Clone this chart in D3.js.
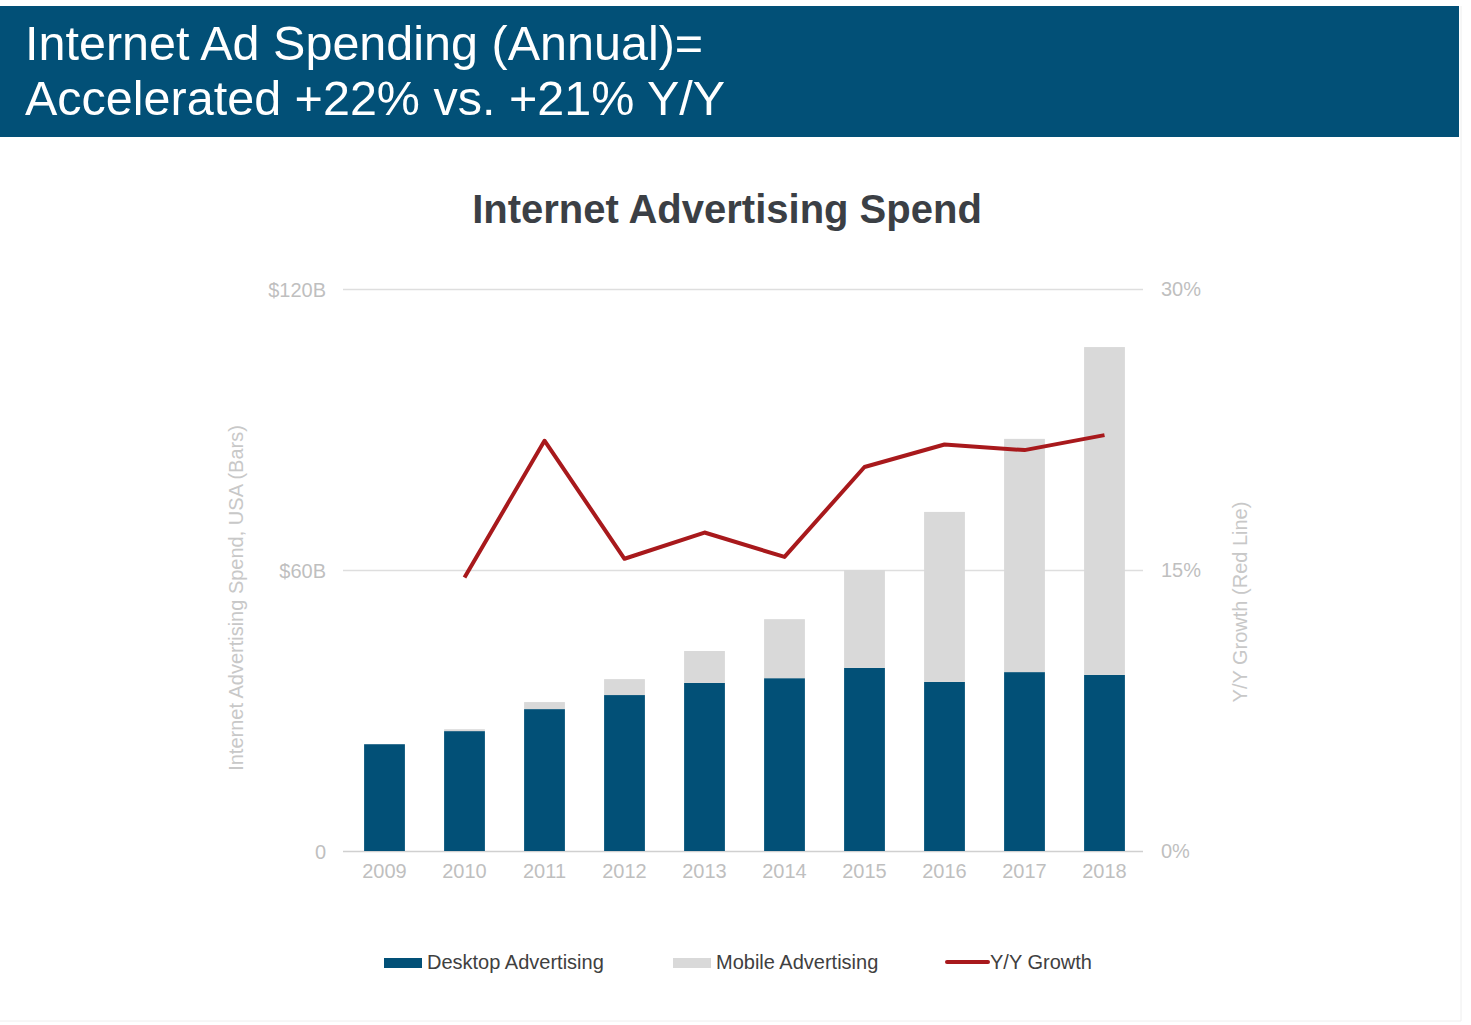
<!DOCTYPE html>
<html>
<head>
<meta charset="utf-8">
<script src="https://cdn.jsdelivr.net/npm/d3@7"></script>
<style>
  body { margin: 0; background: #fff; }
  text { font-family: "Liberation Sans", Arial, sans-serif; }
</style>
</head>
<body>
<div class="chart"></div>
<script>
// data
const years = ["2009", "2010", "2011", "2012", "2013", "2014", "2015", "2016", "2017", "2018"];
const desktop = [22.8, 25.6, 30.3, 33.3, 35.9, 36.9, 39.1, 36.1, 38.2, 37.6];
const mobile = [0, 0.4, 1.5, 3.4, 6.8, 12.6, 20.9, 36.3, 49.8, 70.0];
const growth = [null, 14.6, 21.9, 15.6, 17.0, 15.7, 20.5, 21.7, 21.4, 22.2];
const spendTicks = [0, 60, 120];
const growthTicks = [0, 15, 30];
const headerLines = ["Internet Ad Spending (Annual)=", "Accelerated +22% vs. +21% Y/Y"];

function drawChart() {
    const width = 1471, height = 1025;
    const left = 343, right = 1143, top = 289, bottom = 851;

    const svg = d3.select(".chart").append("svg")
        .attr("width", width)
        .attr("height", height);

    svg.append("rect").attr("width", width).attr("height", height).attr("fill", "#fff");

    // header band
    svg.append("rect")
        .attr("x", 0).attr("y", 6)
        .attr("width", 1459).attr("height", 131)
        .attr("fill", "#025077");
    svg.selectAll(".head")
        .data(headerLines)
        .enter().append("text")
        .attr("x", 25)
        .attr("y", (d, i) => 60 + i * 55)
        .attr("fill", "#fff")
        .style("font-size", "48.5px")
        .text(d => d);

    // faint slide edge
    svg.append("line").attr("x1", 1461).attr("x2", 1461).attr("y1", 6).attr("y2", 1021)
        .attr("stroke", "#eeeeee");
    svg.append("line").attr("x1", 0).attr("x2", 1461).attr("y1", 1021).attr("y2", 1021)
        .attr("stroke", "#eeeeee");

    svg.append("text")
        .attr("x", 727).attr("y", 223)
        .attr("text-anchor", "middle")
        .attr("fill", "#3b3f45")
        .style("font-size", "40px")
        .style("font-weight", "bold")
        .text("Internet Advertising Spend");

    const x = d3.scaleBand()
        .domain(years)
        .range([left + 1.5, right + 1.5])
        .paddingInner(0.49)
        .paddingOuter(0.245);
    const y = d3.scaleLinear().domain([0, 120]).range([bottom, top]);
    const y2 = d3.scaleLinear().domain([0, 30]).range([bottom, top]);

    // left axis + gridlines
    const yAxis = svg.append("g")
        .attr("transform", `translate(${left},0)`)
        .call(d3.axisLeft(y)
            .tickValues(spendTicks)
            .tickSize(-(right - left))
            .tickPadding(17)
            .tickFormat(d => d === 0 ? "0" : `$${d}B`));
    yAxis.select(".domain").remove();
    yAxis.selectAll("line").attr("stroke", d => d === 0 ? "#d0d0d0" : "#dedede").attr("stroke-width", 1.5);
    yAxis.selectAll("text").attr("fill", "#bfbfbf").style("font-size", "20px")
        .attr("dy", "0.35em");

    const y2Axis = svg.append("g")
        .attr("transform", `translate(${right},0)`)
        .call(d3.axisRight(y2)
            .tickValues(growthTicks)
            .tickSize(0)
            .tickPadding(18)
            .tickFormat(d => `${d}%`));
    y2Axis.select(".domain").remove();
    y2Axis.selectAll("text").attr("fill", "#bfbfbf").style("font-size", "20px");

    const xAxis = svg.append("g")
        .attr("transform", `translate(0,${bottom})`)
        .call(d3.axisBottom(x).tickSize(0).tickPadding(13));
    xAxis.select(".domain").remove();
    xAxis.selectAll("text").attr("fill", "#bfbfbf").style("font-size", "20px");

    // axis titles
    svg.append("text")
        .attr("transform", "translate(243,598) rotate(-90)")
        .attr("text-anchor", "middle")
        .attr("fill", "#c8c8c8")
        .style("font-size", "20px")
        .text("Internet Advertising Spend, USA (Bars)");
    svg.append("text")
        .attr("transform", "translate(1247,602) rotate(-90)")
        .attr("text-anchor", "middle")
        .attr("fill", "#c8c8c8")
        .style("font-size", "20px")
        .text("Y/Y Growth (Red Line)");

    // stacked bars
    const rows = years.map((yr, i) => ({ year: yr, desktop: desktop[i], mobile: mobile[i] }));
    const stack = d3.stack().keys(["desktop", "mobile"])(rows);
    const colors = { desktop: "#025077", mobile: "#d9d9d9" };

    svg.append("g").selectAll("g")
        .data(stack)
        .enter().append("g")
        .attr("fill", d => colors[d.key])
        .selectAll("rect")
        .data(d => d)
        .enter().append("rect")
            .attr("x", d => x(d.data.year))
            .attr("y", d => y(d[1]))
            .attr("width", x.bandwidth())
            .attr("height", d => y(d[0]) - y(d[1]));

    // growth line
    const line = d3.line()
        .defined(d => d.v != null)
        .x(d => x(d.year) + x.bandwidth() / 2)
        .y(d => y2(d.v));
    svg.append("path")
        .datum(years.map((yr, i) => ({ year: yr, v: growth[i] })))
        .attr("d", line)
        .attr("fill", "none")
        .attr("stroke", "#a8191c")
        .attr("stroke-width", 4)
        .attr("stroke-linejoin", "round");

    // legend
    const legend = svg.append("g");
    const items = [
        { label: "Desktop Advertising", x: 384, type: "rect", color: "#025077" },
        { label: "Mobile Advertising", x: 673, type: "rect", color: "#d9d9d9" },
        { label: "Y/Y Growth", x: 947, type: "line", color: "#a8191c" }
    ];
    items.forEach(it => {
        if (it.type === "rect") {
            legend.append("rect").attr("x", it.x).attr("y", 958)
                .attr("width", 38).attr("height", 10).attr("fill", it.color);
        } else {
            legend.append("line").attr("x1", it.x).attr("x2", it.x + 41)
                .attr("y1", 962).attr("y2", 962)
                .attr("stroke", it.color).attr("stroke-width", 4).attr("stroke-linecap", "round");
        }
        legend.append("text")
            .attr("x", it.x + (it.type === "rect" ? 43 : 43))
            .attr("y", 969)
            .attr("fill", "#404040")
            .style("font-size", "20px")
            .text(it.label);
    });
}

drawChart();
</script>
</body>
</html>
